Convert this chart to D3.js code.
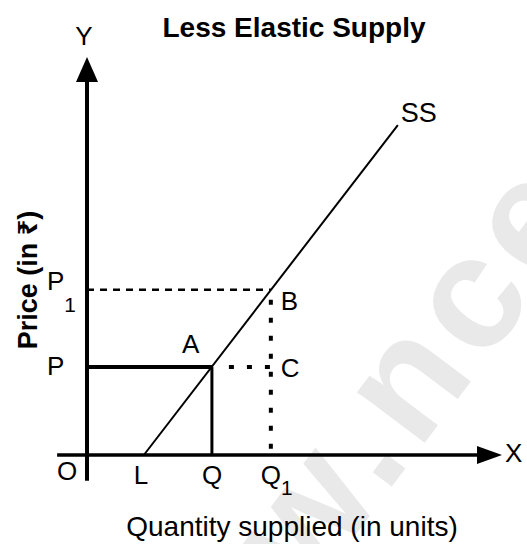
<!DOCTYPE html>
<html>
<head>
<meta charset="utf-8">
<script src="https://cdnjs.cloudflare.com/ajax/libs/d3/7.8.5/d3.min.js"></script>
<style>
  body { margin: 0; background: #fff; }
  svg { display: block; font-family: "Liberation Sans", Arial, "Noto Sans", sans-serif; }
</style>
</head>
<body>
<svg id="chart"></svg>
<script>
// values (quantity, price in arbitrary units 0..10)
var title = "Less Elastic Supply";
var yAxisLabel = "Price (in ₹)";
var xAxisLabel = "Quantity supplied (in units)";

var supplyQty   = [1.37, 7.49];   // L ... SS end
var supplyPrice = [0, 8.29];

var pointNames = ["A", "B", "C"];
var pointQty   = [3.01, 4.43, 4.43];
var pointPrice = [2.21, 4.15, 2.21];

var priceNames  = ["P", "P1"];
var priceValues = [2.21, 4.15];

var qtyNames  = ["L", "Q", "Q1"];
var qtyValues = [1.37, 3.01, 4.43];

const width = 527;
const height = 544;

var x = d3.scaleLinear().domain([0, 10]).range([87, 502]);
var y = d3.scaleLinear().domain([0, 10]).range([455, 57]);

var svg = d3.select('#chart')
  .attr('width', width)
  .attr('height', height);

svg.append('rect').attr('width', width).attr('height', height).attr('fill', '#fff');

// faint watermark
svg.append('text')
  .attr('transform', 'translate(308,598) rotate(-53)')
  .attr('font-size', 160)
  .attr('font-weight', 'bold')
  .attr('letter-spacing', 10)
  .attr('fill', '#e9e9e9')
  .text('w.nce');

// title
svg.append('text')
  .attr('x', 294).attr('y', 37)
  .attr('text-anchor', 'middle')
  .attr('font-size', 28).attr('font-weight', 'bold')
  .text(title);

// axes
svg.append('line')
  .attr('x1', x(0)).attr('x2', x(0))
  .attr('y1', y(-0.65)).attr('y2', y(9.4))
  .attr('stroke', '#000').attr('stroke-width', 4);
svg.append('path')
  .attr('d', `M${x(0)},${y(10)} L${x(0) + 11},${y(10) + 25} L${x(0) - 11},${y(10) + 25} Z`)
  .attr('fill', '#000');

svg.append('line')
  .attr('x1', x(-0.72)).attr('x2', x(9.5))
  .attr('y1', y(0)).attr('y2', y(0))
  .attr('stroke', '#000').attr('stroke-width', 3.5);
svg.append('path')
  .attr('d', `M${x(10)},${y(0)} L${x(10) - 25},${y(0) - 9} L${x(10) - 25},${y(0) + 9} Z`)
  .attr('fill', '#000');

// supply curve
var line = d3.line()
  .x(d => x(d[0]))
  .y(d => y(d[1]));

svg.append('path')
  .datum(d3.zip(supplyQty, supplyPrice))
  .attr('d', line)
  .attr('fill', 'none')
  .attr('stroke', '#000')
  .attr('stroke-width', 2);

// P1 dashed line to B
svg.append('line')
  .attr('x1', x(0)).attr('x2', x(pointQty[1]))
  .attr('y1', y(priceValues[1])).attr('y2', y(priceValues[1]))
  .attr('stroke', '#000').attr('stroke-width', 2.5)
  .attr('stroke-dasharray', '7,6');

// P solid line to A
svg.append('line')
  .attr('x1', x(0)).attr('x2', x(pointQty[0]))
  .attr('y1', y(priceValues[0])).attr('y2', y(priceValues[0]))
  .attr('stroke', '#000').attr('stroke-width', 4);

// A down to Q
svg.append('line')
  .attr('x1', x(pointQty[0])).attr('x2', x(pointQty[0]))
  .attr('y1', y(pointPrice[0])).attr('y2', y(0))
  .attr('stroke', '#000').attr('stroke-width', 3);

// A to C dotted
svg.append('line')
  .attr('x1', x(pointQty[0]) + 17).attr('x2', x(pointQty[2]))
  .attr('y1', y(pointPrice[2])).attr('y2', y(pointPrice[2]))
  .attr('stroke', '#000').attr('stroke-width', 4)
  .attr('stroke-dasharray', '5,13');

// B down to Q1 dotted
svg.append('line')
  .attr('x1', x(pointQty[1])).attr('x2', x(pointQty[1]))
  .attr('y1', y(pointPrice[1]) + 10).attr('y2', y(0))
  .attr('stroke', '#000').attr('stroke-width', 4)
  .attr('stroke-dasharray', '5,13');

// label helper with optional subscript
function label(txt, px, py, size, anchor, subDy) {
  var t = svg.append('text')
    .attr('x', px).attr('y', py)
    .attr('font-size', size)
    .attr('text-anchor', anchor || 'start');
  var m = txt.match(/^([A-Z]+)(\d)?$/);
  if (m && m[2]) {
    t.append('tspan').text(m[1]);
    t.append('tspan').attr('dy', subDy || 14).attr('font-size', size * 0.8).text(m[2]);
  } else {
    t.text(txt);
  }
  return t;
}

// point labels
label(pointNames[0], x(pointQty[0]) - 30, y(pointPrice[0]) - 14, 26);
label(pointNames[1], x(pointQty[1]) + 10, y(pointPrice[1]) + 20, 26);
label(pointNames[2], x(pointQty[2]) + 10, y(pointPrice[2]) + 10, 26);
label("SS", x(supplyQty[1]) + 3, y(supplyPrice[1]) - 3, 27);

// price labels
priceNames.forEach((n, i) => {
  label(n, x(0) - 40, y(priceValues[i]) + (i ? 0 : 8), 26, 'start', 22);
});

// quantity labels
qtyNames.forEach((n, i) => {
  label(n, x(qtyValues[i]) - 10, y(0) + 29, 26, 'start', 11);
});

label("O", x(0) - 30, y(0) + 25, 26);
label("X", x(10) + 3, y(0) + 7, 26);
label("Y", x(0) - 3, 45, 26, 'middle');

// axis titles
svg.append('text')
  .attr('transform', `translate(37,${280}) rotate(-90)`)
  .attr('text-anchor', 'middle')
  .attr('font-size', 27).attr('font-weight', 'bold')
  .text(yAxisLabel);

svg.append('text')
  .attr('x', 292).attr('y', 536)
  .attr('text-anchor', 'middle')
  .attr('font-size', 28)
  .text(xAxisLabel);
</script>
</body>
</html>
